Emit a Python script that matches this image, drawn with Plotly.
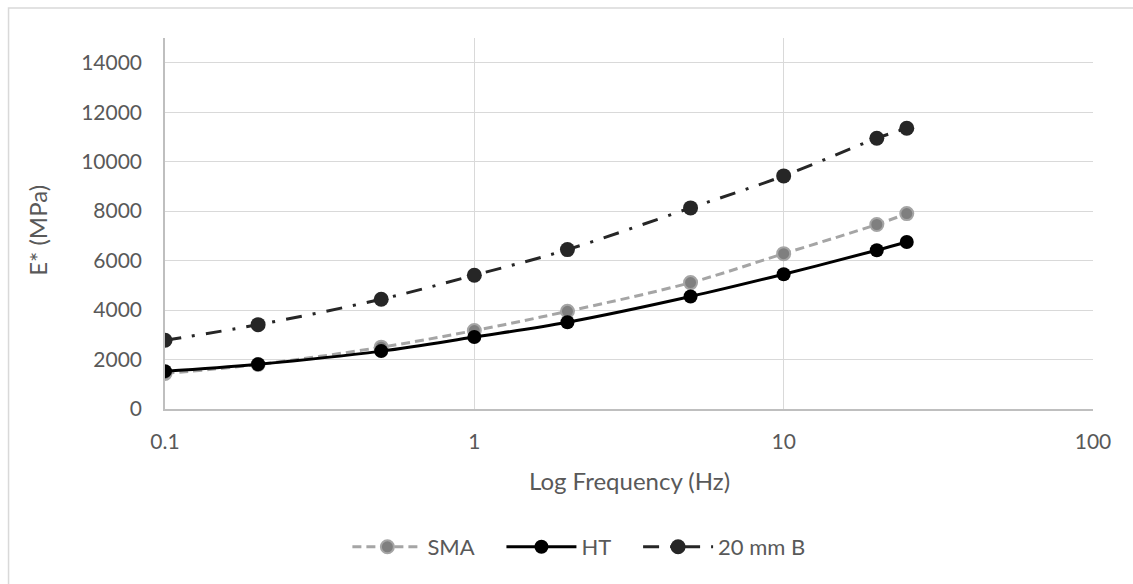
import plotly.graph_objects as go

# Loading frequency (Hz) and dynamic modulus E* (MPa) for each mix
freq = [0.1, 0.2, 0.5, 1, 2, 5, 10, 20, 25]
sma = [1440, 1800, 2500, 3170, 3950, 5110, 6280, 7460, 7900]
ht = [1530, 1810, 2340, 2910, 3510, 4550, 5450, 6420, 6750]
b20 = [2780, 3410, 4440, 5410, 6445, 8130, 9425, 10945, 11350]

series_names = ["SMA", "HT", "20 mm B"]

x_ticks = [0.1, 1, 10, 100]
x_tick_text = ["0.1", "1", "10", "100"]

FONT = "Lato"
TXT = "#595959"
PAD = "\u00a0" * 4  # extra room between legend entries

fig = go.Figure()

fig.add_trace(go.Scatter(
    x=freq, y=sma, name=series_names[0] + PAD, mode="lines+markers",
    line=dict(color="#a5a5a5", width=3, dash="9px,5px", shape="spline"),
    marker=dict(size=13, color="#7f7f7f", line=dict(color="#a5a5a5", width=2)),
))
fig.add_trace(go.Scatter(
    x=freq, y=ht, name=series_names[1] + PAD, mode="lines+markers",
    line=dict(color="#000000", width=3, shape="spline"),
    marker=dict(size=14, color="#000000"),
))
fig.add_trace(go.Scatter(
    x=freq, y=b20, name=series_names[2], mode="lines+markers",
    line=dict(color="#262626", width=3, dash="16px,11px,3px,11px", shape="spline"),
    marker=dict(size=15, color="#262626"),
))

fig.update_layout(
    width=1133, height=584,
    margin=dict(l=165, r=40, t=38, b=175),
    paper_bgcolor="white", plot_bgcolor="white",
    font=dict(family=FONT, size=22, color=TXT),
    showlegend=True,
    legend=dict(
        orientation="h", x=0.446, xanchor="center", y=-0.372, yanchor="middle",
        font=dict(family=FONT, size=22, color=TXT),
        itemwidth=70, traceorder="normal",
    ),
    xaxis=dict(
        type="log", range=[-1, 2],
        tickvals=x_ticks, ticktext=x_tick_text,
        showgrid=True, gridcolor="#d9d9d9", gridwidth=1,
        showline=True, linecolor="#bfbfbf", linewidth=1.5,
        ticks="", ticklabelstandoff=13, zeroline=False,
        tickfont=dict(family=FONT, size=21, color=TXT),
    ),
    yaxis=dict(
        range=[0, 15000], tick0=0, dtick=2000, tickformat="d",
        showgrid=True, gridcolor="#d9d9d9", gridwidth=1,
        showline=True, linecolor="#bfbfbf", linewidth=1.5,
        ticks="", ticklabelstandoff=17, zeroline=False,
        tickfont=dict(family=FONT, size=21, color=TXT),
    ),
    annotations=[
        dict(text="Log Frequency (Hz)", xref="paper", yref="paper",
             x=0.5003, y=-0.194, xanchor="center", yanchor="middle",
             showarrow=False, font=dict(family=FONT, size=24, color=TXT)),
        dict(text="E* (MPa)", xref="paper", yref="paper",
             x=-0.1373, y=0.482, xanchor="center", yanchor="middle",
             textangle=-90, showarrow=False,
             font=dict(family=FONT, size=24, color=TXT)),
    ],
    shapes=[
        dict(type="rect", xref="paper", yref="paper",
             x0=-0.1686, x1=1.06, y0=-0.5, y1=1.081,
             line=dict(color="#d9d9d9", width=1.5), fillcolor="rgba(0,0,0,0)",
             layer="below"),
    ],
)

fig.write_html("out.html")
